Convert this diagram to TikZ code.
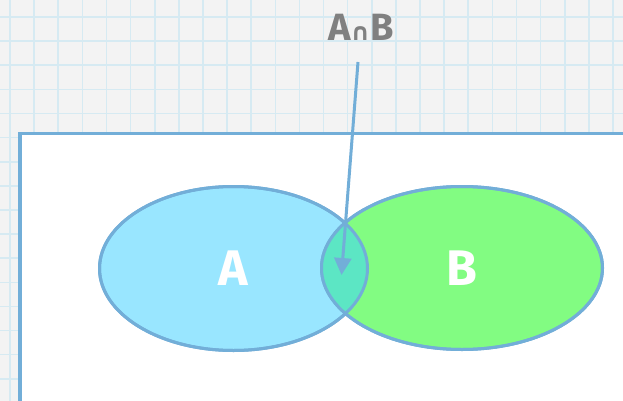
\documentclass[tikz,border=0pt]{standalone}
\usepackage{fontspec}
\setmainfont{Fira Sans}
\newfontfamily\symfont{DejaVu Sans}
\usetikzlibrary{shapes.geometric,arrows.meta}
\definecolor{bgc}{HTML}{F3F3F3}
\definecolor{gridc}{HTML}{D6EAF2}
\definecolor{edgec}{HTML}{72AED8}
\definecolor{setA}{HTML}{99E6FF}
\definecolor{setB}{HTML}{82FC82}
\definecolor{setAB}{HTML}{5CE6C4}
\definecolor{labelgray}{HTML}{808080}
\tikzset{
  setshape/.style={ellipse, inner sep=0pt, draw=edgec, line width=3pt},
  setlabel/.style={text=white, font=\bfseries\fontsize{50}{50}\selectfont},
  toplabel/.style={text=labelgray, font=\bfseries\fontsize{38}{38}\selectfont},
  pointer/.style={draw=edgec, line width=3pt, -{Triangle[length=17pt,width=17pt]}},
}
\begin{document}
\begin{tikzpicture}[x=1pt,y=-1pt]
\useasboundingbox (0,0) rectangle (623,401);
\clip (0,0) rectangle (623,401);
\fill[bgc] (0,0) rectangle (623,401);
\foreach \i in {0,...,25} {
  \draw[gridc, line width=1.6pt] (10+24.12*\i,0) -- (10+24.12*\i,401);
}
\foreach \j in {0,...,16} {
  \draw[gridc, line width=1.6pt] (0,17+24.12*\j) -- (623,17+24.12*\j);
}
\draw[edgec, line width=3.5pt, fill=white] (20,133.5) rectangle (660,440);
% sets
\node[setshape, fill=setA, minimum width=268pt, minimum height=164pt] (A) at (233.5,268.5) {};
\node[setshape, fill=setB, minimum width=281pt, minimum height=163pt] (B) at (462,268) {};
\begin{scope}
  \clip (233.5,268.5) ellipse [x radius=134pt, y radius=82pt];
  \fill[setAB] (462,268) ellipse [x radius=140.5pt, y radius=81.5pt];
\end{scope}
\draw[edgec, line width=3pt] (233.5,268.5) ellipse [x radius=134pt, y radius=82pt];
\draw[edgec, line width=3pt] (462,268) ellipse [x radius=140.5pt, y radius=81.5pt];
\node[setlabel] (la) at (233,268) {A};
\node[setlabel] (lb) at (462,268) {B};
\node[toplabel, inner sep=2pt] (ab) at (361,27) {A{\symfont\fontsize{24}{24}\selectfont ∩}B};
\coordinate (start) at (358,62);
\coordinate (tip) at (341.5,275);
\draw[pointer] (start) -- (tip);
\end{tikzpicture}
\end{document}
